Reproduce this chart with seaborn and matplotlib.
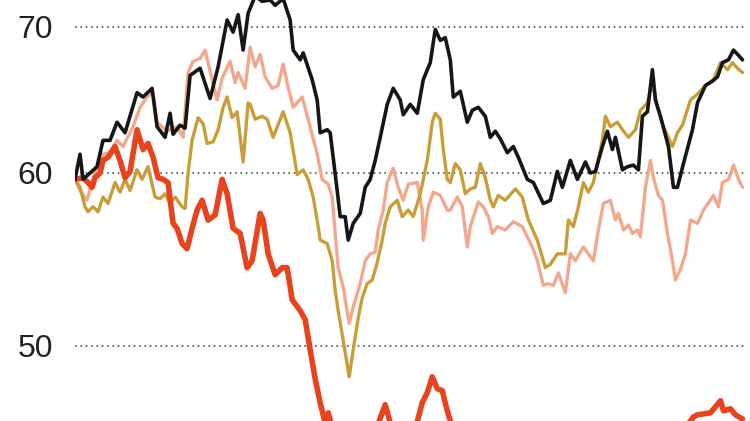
import numpy as np
import pandas as pd
import matplotlib
matplotlib.use("Agg")
import matplotlib.pyplot as plt
import seaborn as sns

# x = trading day since start, y = index level (log scale)
black_x = [0, 5, 8, 22, 28, 35, 42, 50, 62, 68, 77, 82, 90, 95, 98, 105, 110, 115, 125, 135,
           143, 152, 158, 163, 168, 173, 180, 187, 195, 200, 208, 215, 218, 225, 228, 237, 242,
           245, 252, 255, 262, 265, 270, 273, 278, 285, 290, 295, 300, 305, 312, 318, 325, 328,
           335, 342, 348, 355, 360, 365, 370, 375, 378, 385, 392, 397, 403, 410, 415, 420, 425,
           432, 438, 443, 452, 458, 468, 475, 482, 487, 495, 502, 510, 515, 520, 527, 532, 537,
           540, 547, 552, 558, 563, 567, 572, 577, 580, 585, 593, 598, 602, 608, 617, 622, 630,
           637, 642, 647, 653, 658, 662, 667]
black_y = [59.6, 61.2, 59.6, 60.4, 62.1, 62.1, 63.3, 62.6, 65.3, 65.0, 65.6, 63.0, 62.3, 63.9,
           62.5, 63.1, 62.9, 66.5, 67.0, 64.9, 67.1, 70.5, 69.6, 70.9, 68.3, 71.0, 72.3, 71.9,
           72.0, 71.6, 72.1, 70.5, 68.3, 67.6, 68.1, 66.2, 64.8, 62.6, 62.8, 62.6, 58.9, 57.3,
           57.3, 55.9, 56.9, 57.5, 59.1, 59.6, 60.8, 62.3, 64.5, 65.6, 64.8, 63.8, 64.5, 63.9,
           66.2, 67.4, 69.8, 69.0, 69.2, 67.6, 65.0, 65.4, 63.3, 64.1, 64.3, 63.7, 62.3, 62.7,
           62.2, 61.3, 61.7, 61.0, 59.6, 59.4, 58.1, 58.3, 60.1, 59.1, 60.8, 59.6, 60.7, 60.0,
           60.1, 61.7, 62.7, 61.5, 62.3, 60.2, 60.4, 60.5, 60.2, 63.7, 64.0, 66.9, 64.8, 63.7,
           61.7, 59.1, 59.1, 60.6, 62.8, 64.6, 65.8, 66.1, 66.4, 67.4, 67.6, 68.3, 68.0, 67.6]

gold_x = [0, 5, 10, 13, 18, 23, 28, 33, 40, 45, 50, 55, 62, 67, 73, 80, 85, 90, 95, 100, 107,
          110, 113, 117, 123, 128, 132, 138, 143, 148, 152, 157, 162, 168, 173, 175, 180, 187,
          192, 198, 208, 215, 222, 228, 233, 238, 243, 245, 252, 257, 260, 263, 268, 274, 278,
          283, 287, 292, 297, 302, 307, 310, 315, 322, 327, 333, 338, 345, 352, 357, 360, 365,
          368, 372, 375, 380, 385, 390, 395, 400, 405, 410, 415, 418, 423, 430, 440, 447, 453,
          462, 470, 475, 482, 490, 493, 498, 503, 508, 513, 518, 527, 530, 535, 542, 547, 553,
          560, 565, 572, 577, 582, 588, 597, 602, 607, 615, 622, 630, 638, 645, 652, 657, 662,
          667]
gold_y = [59.6, 59.1, 57.9, 57.6, 57.9, 57.6, 58.5, 58.1, 59.4, 58.8, 59.6, 58.9, 60.2, 59.6,
          60.4, 58.5, 58.4, 58.7, 58.1, 58.5, 57.9, 57.8, 60.0, 62.1, 63.6, 63.2, 61.9, 62.0,
          62.8, 64.3, 65.0, 63.6, 64.0, 60.7, 64.6, 64.5, 63.5, 63.7, 63.5, 62.3, 64.0, 62.6,
          59.9, 60.2, 59.6, 58.5, 56.7, 55.9, 55.7, 54.7, 53.0, 51.9, 50.3, 48.4, 49.8, 51.5,
          52.6, 53.4, 53.6, 54.6, 55.9, 56.9, 57.9, 58.3, 57.3, 57.7, 57.3, 58.7, 60.8, 63.3,
          63.9, 63.5, 61.5, 59.6, 59.4, 60.6, 60.2, 58.7, 59.0, 59.1, 60.6, 59.7, 58.3, 57.9,
          58.6, 58.3, 59.0, 58.5, 57.1, 55.9, 54.3, 54.5, 55.1, 55.1, 57.1, 56.7, 57.9, 59.4,
          58.8, 59.4, 62.1, 63.7, 63.0, 63.3, 62.8, 62.3, 62.8, 64.1, 64.6, 66.0, 64.3, 63.0,
          61.7, 62.6, 63.1, 64.8, 65.2, 65.8, 66.2, 67.4, 66.9, 67.4, 67.0, 66.7]

salmon_x = [0, 5, 12, 17, 22, 28, 35, 42, 48, 58, 65, 72, 78, 82, 92, 102, 108, 113, 118, 125,
            130, 135, 142, 147, 155, 160, 163, 170, 175, 180, 185, 190, 197, 203, 208, 213, 218,
            227, 233, 242, 247, 253, 257, 260, 263, 268, 274, 278, 285, 290, 295, 300, 303, 308,
            312, 318, 323, 328, 333, 342, 347, 348, 353, 358, 365, 372, 375, 382, 387, 392, 395,
            403, 408, 413, 417, 422, 430, 438, 447, 457, 462, 468, 473, 478, 483, 490, 495, 500,
            508, 518, 523, 528, 535, 540, 543, 548, 553, 557, 562, 565, 570, 575, 578, 583, 587,
            592, 597, 600, 605, 610, 615, 622, 628, 638, 643, 647, 653, 658, 663, 667]
salmon_y = [59.6, 58.9, 58.3, 59.4, 60.4, 61.2, 61.3, 62.1, 61.7, 63.0, 64.3, 65.0, 65.3, 63.3,
            62.7, 63.0, 62.3, 66.7, 67.5, 67.7, 68.3, 66.8, 64.8, 66.3, 67.5, 66.0, 66.7, 65.6,
            68.5, 67.1, 68.0, 66.4, 65.6, 65.8, 67.3, 65.7, 64.3, 65.0, 63.5, 61.2, 59.6, 59.3,
            58.5, 56.3, 54.3, 53.2, 51.2, 52.1, 53.4, 54.7, 55.1, 55.2, 56.5, 57.7, 59.4, 60.3,
            59.1, 58.3, 59.3, 59.4, 57.7, 55.9, 57.9, 58.8, 58.6, 57.7, 57.7, 58.5, 57.9, 55.5,
            56.7, 58.2, 57.9, 57.3, 56.3, 56.7, 56.5, 57.0, 56.7, 55.5, 54.7, 53.3, 53.4, 53.3,
            54.0, 52.9, 55.1, 54.7, 55.5, 54.7, 56.5, 58.1, 58.3, 57.1, 57.5, 56.5, 56.8, 56.3,
            56.5, 56.1, 59.1, 60.8, 59.7, 58.6, 58.3, 56.3, 54.7, 53.6, 54.2, 55.1, 57.1, 56.9,
            57.7, 58.6, 57.9, 59.4, 59.6, 60.5, 59.6, 59.1]

red_x = [0, 8, 13, 17, 20, 25, 28, 33, 40, 45, 50, 55, 62, 68, 73, 78, 83, 88, 93, 98, 102,
         107, 112, 117, 122, 127, 133, 140, 147, 152, 158, 165, 172, 177, 185, 188, 193, 200,
         207, 212, 217, 225, 230, 235, 240, 245, 250, 253, 257, 265, 285, 300, 307, 310, 315,
         325, 340, 347, 352, 357, 362, 367, 372, 377, 395, 425, 475, 525, 575, 605, 615, 618,
         622, 635, 645, 648, 655, 660, 667]
red_y = [59.6, 59.7, 59.4, 59.1, 59.7, 60.0, 60.8, 61.0, 61.7, 60.8, 59.7, 60.1, 62.8, 61.5,
         61.9, 61.0, 59.7, 59.6, 59.4, 56.9, 56.6, 55.7, 55.4, 56.6, 57.7, 58.3, 57.1, 57.4,
         59.6, 58.7, 56.6, 56.3, 54.3, 54.7, 57.5, 57.1, 55.1, 53.9, 54.3, 54.3, 52.5, 51.9,
         51.4, 49.8, 48.3, 47.1, 46.1, 46.6, 45.9, 45.2, 45.0, 45.7, 46.6, 47.0, 46.1, 45.2,
         45.8, 47.1, 47.6, 48.4, 47.8, 47.7, 46.7, 45.9, 45.2, 45.0, 44.9, 45.0, 45.2, 45.7,
         46.2, 46.4, 46.5, 46.6, 47.2, 46.7, 46.8, 46.5, 46.3]

series = [
    ("salmon", salmon_x, salmon_y, "#f2a88c", 2.4),
    ("gold", gold_x, gold_y, "#c99e38", 2.4),
    ("red", red_x, red_y, "#e8431c", 4.0),
    ("black", black_x, black_y, "#161616", 2.6),
]

sns.set_style("white")
plt.rcParams["font.family"] = ["Liberation Sans", "DejaVu Sans"]

fig = plt.figure(figsize=(7.5, 4.21), dpi=100)
ax = fig.add_axes([0.1, 0.0, 0.894, 1.0])

for name, xs, ys, col, lw in series:
    df = pd.DataFrame({"day": xs, "level": ys})
    sns.lineplot(data=df, x="day", y="level", ax=ax, color=col, linewidth=lw,
                 solid_joinstyle="round", solid_capstyle="round", estimator=None,
                 sort=False, legend=False)

ax.set_yscale("log")
ax.set_xlim(0, 670)
ax.set_ylim(46.2, 72.0)

yticks = [50, 60, 70]
ax.set_yticks(yticks)
ax.set_yticklabels([str(t) for t in yticks])
ax.yaxis.set_minor_locator(matplotlib.ticker.NullLocator())
ax.set_xticks([])
ax.tick_params(axis="y", length=0, pad=16, labelsize=23, labelcolor="#222222")
for t in yticks:
    ax.axhline(t, color="#555555", linewidth=1.2, linestyle=(0, (1, 2.2)), zorder=0.5)

ax.set_xlabel("")
ax.set_ylabel("")
for s in ax.spines.values():
    s.set_visible(False)

fig.savefig("out.png", dpi=100)
